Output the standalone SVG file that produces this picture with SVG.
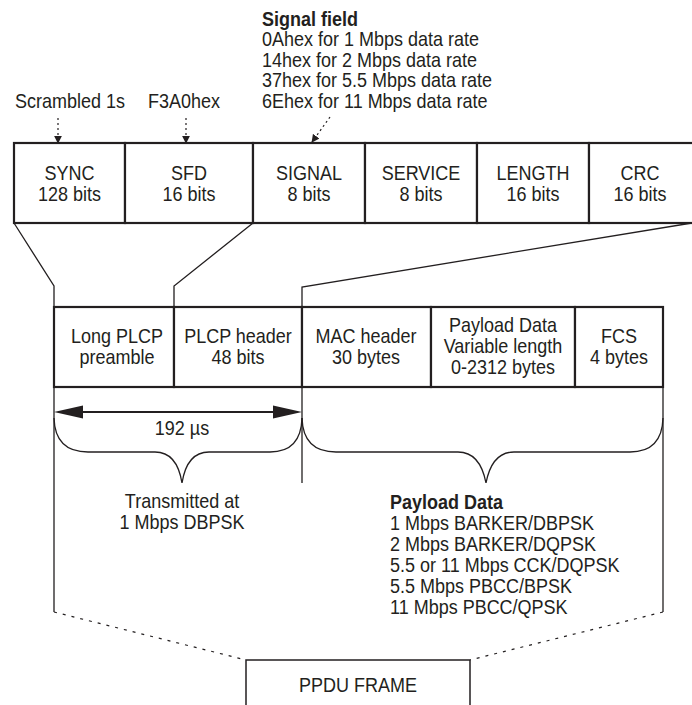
<svg xmlns="http://www.w3.org/2000/svg" width="692" height="705" viewBox="0 0 692 705">
<defs>
<style>
text{font-family:"Liberation Sans",Arial,sans-serif;font-size:18px;fill:#231f20;transform-box:fill-box;transform-origin:50% 100%;transform:scaleY(1.08)}
.c{text-anchor:middle}
.b{font-weight:bold}
.box{fill:#fff;stroke:#231f20;stroke-width:2.2}
.ln{fill:none;stroke:#231f20;stroke-width:1.3}
.dash{fill:none;stroke:#231f20;stroke-width:1.2;stroke-dasharray:3 6}
.dar{fill:none;stroke:#231f20;stroke-width:1.2;stroke-dasharray:2 3}
</style>
<marker id="ah" viewBox="0 0 10 10" refX="9" refY="5" markerWidth="8" markerHeight="8" markerUnits="userSpaceOnUse" orient="auto"><path d="M0,0 L10,5 L0,10 Z" fill="#231f20"/></marker>
</defs>
<rect width="692" height="705" fill="#fff"/>
<g id="connectors">
<polyline class="ln" points="14,223 54,286 54,612"/>
<polyline class="ln" points="253,223 174,286 174,307"/>
<polyline class="ln" points="692,223 302,287 302,307"/>
<line class="ln" x1="302" y1="387" x2="302" y2="483"/>
<line class="ln" x1="663" y1="387" x2="663" y2="612"/>
<line class="dash" x1="54" y1="612" x2="246" y2="660"/>
<line class="dash" x1="663" y1="612" x2="470" y2="660"/>
<line class="dar" x1="58" y1="118" x2="58" y2="143" marker-end="url(#ah)"/>
<line class="dar" x1="186" y1="118" x2="186" y2="143" marker-end="url(#ah)"/>
<line class="dar" x1="330" y1="117" x2="312" y2="142" marker-end="url(#ah)"/>
<line stroke="#231f20" stroke-width="2" x1="80" y1="412" x2="276" y2="412"/>
<polygon fill="#231f20" points="54,412 83,405.5 83,418.5"/>
<polygon fill="#231f20" points="302,412 273,405.5 273,418.5"/>
<path class="ln" d="M54,418 Q55,452 88,452 L155,452 Q177,452 182,483 Q187,452 209,452 L270,452 Q301,452 302,418"/>
<path class="ln" d="M302,418 Q303,452 336,452 L458,452 Q480,452 486,483 Q492,452 514,452 L630,452 Q662,452 663,418"/>
</g>
<g id="sync"><rect class="box" x="14" y="143" width="111" height="80"/><text class="c" x="69.5" y="180.5">SYNC</text><text class="c" x="69.5" y="201">128 bits</text></g>
<g id="sfd"><rect class="box" x="125" y="143" width="128" height="80"/><text class="c" x="189" y="180.5">SFD</text><text class="c" x="189" y="201">16 bits</text></g>
<g id="signal"><rect class="box" x="253" y="143" width="112" height="80"/><text class="c" x="309" y="180.5">SIGNAL</text><text class="c" x="309" y="201">8 bits</text></g>
<g id="service"><rect class="box" x="365" y="143" width="112" height="80"/><text class="c" x="421" y="180.5">SERVICE</text><text class="c" x="421" y="201">8 bits</text></g>
<g id="length"><rect class="box" x="477" y="143" width="112" height="80"/><text class="c" x="533" y="180.5">LENGTH</text><text class="c" x="533" y="201">16 bits</text></g>
<g id="crc"><rect class="box" x="589" y="143" width="112" height="80"/><text class="c" x="640" y="180.5">CRC</text><text class="c" x="640" y="201">16 bits</text></g>
<g id="long-plcp-preamble"><rect class="box" x="54" y="307" width="120" height="80"/><text class="c" x="117" y="343">Long PLCP</text><text class="c" x="117" y="364">preamble</text></g>
<g id="plcp-header"><rect class="box" x="174" y="307" width="128" height="80"/><text class="c" x="238" y="343">PLCP header</text><text class="c" x="238" y="364">48 bits</text></g>
<g id="mac-header"><rect class="box" x="302" y="307" width="129" height="80"/><text class="c" x="366" y="343">MAC header</text><text class="c" x="366" y="364">30 bytes</text></g>
<g id="payload-data"><rect class="box" x="431" y="307" width="144" height="80"/><text class="c" x="503" y="332">Payload Data</text><text class="c" x="503" y="353">Variable length</text><text class="c" x="503" y="374">0-2312 bytes</text></g>
<g id="fcs"><rect class="box" x="575" y="307" width="88" height="80"/><text class="c" x="619" y="343">FCS</text><text class="c" x="619" y="364">4 bytes</text></g>
<g id="ppdu-frame"><path d="M246,706 V660 H470 V706" fill="#fff" stroke="#231f20" stroke-width="1.5"/><text class="c" x="358" y="692">PPDU FRAME</text></g>
<g id="label-scrambled"><text x="15" y="108">Scrambled 1s</text></g>
<g id="label-f3a0"><text x="148" y="108">F3A0hex</text></g>
<g id="label-signal-field">
<text class="b" x="262" y="26">Signal field</text>
<text x="262" y="46">0Ahex for 1 Mbps data rate</text>
<text x="262" y="67">14hex for 2 Mbps data rate</text>
<text x="262" y="87">37hex for 5.5 Mbps data rate</text>
<text x="262" y="108">6Ehex for 11 Mbps data rate</text>
</g>
<g id="label-192"><text class="c" x="182" y="435">192 µs</text></g>
<g id="label-transmitted"><text class="c" x="182" y="508">Transmitted at</text><text class="c" x="182" y="529">1 Mbps DBPSK</text></g>
<g id="label-payload">
<text class="b" x="390" y="509">Payload Data</text>
<text x="390" y="530">1 Mbps BARKER/DBPSK</text>
<text x="390" y="551">2 Mbps BARKER/DQPSK</text>
<text x="390" y="572">5.5 or 11 Mbps CCK/DQPSK</text>
<text x="390" y="593">5.5 Mbps PBCC/BPSK</text>
<text x="390" y="614">11 Mbps PBCC/QPSK</text>
</g>
</svg>
